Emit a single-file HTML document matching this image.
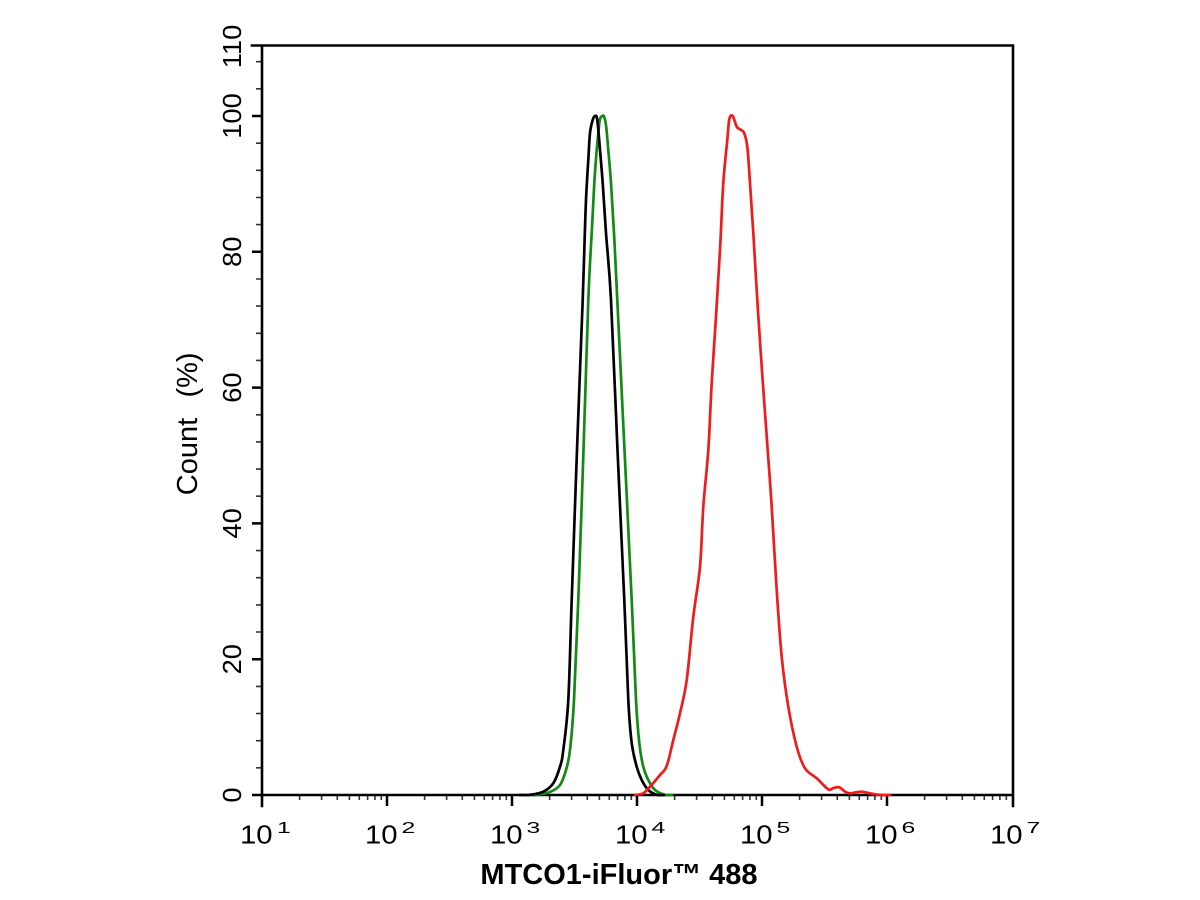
<!DOCTYPE html>
<html>
<head>
<meta charset="utf-8">
<style>
html,body{margin:0;padding:0;background:#fff}
svg{display:block}
text{font-family:"Liberation Sans",Arial,sans-serif;fill:#000}
</style>
</head>
<body>
<svg id="c" width="1200" height="900" viewBox="0 0 1200 900" xmlns="http://www.w3.org/2000/svg">
<rect width="1200" height="900" fill="#fff"/>
<path id="minor" stroke="#333" stroke-width="1.6" fill="none" d=""/>
<path id="major" stroke="#000" stroke-width="2.5" fill="none" d=""/>
<path stroke="#000" stroke-width="2.6" fill="none" stroke-linecap="square" d="M252 45.5H1013V806M262 45.5V806M262 795H1013"/>
<g fill="none" stroke-width="2.7" stroke-linejoin="round" stroke-linecap="round">
<polyline class="smooth" stroke="#138a13" points="530,795 536.7,794.8 550,792 560,785 566,770 570,750 574,700 578.3,600 583.5,450 588.3,300 591.7,233 594.3,183 596.7,150 598.3,133 600,119 602.3,116 604,116.5 606,125 608.3,150 611,183 614,233 617.3,300 624.5,450 631.7,600 636,700 639.3,743 643.3,766.7 648.3,780 655,790 665,794.8 672,795"/>
<polyline class="smooth" stroke="#000000" points="520,795 530,794.8 543.3,791.7 553.3,783.3 560,766.7 563.3,750 568.3,700 571.7,600 577,450 582.7,300 584.3,250 586,200 588.3,160 590,133 592.7,120 595,116 597.3,120 600,150 602.7,183 606,233 611,300 617.5,450 624.3,600 628.3,700 631.7,743 636.7,766.7 641.7,780 648.3,790 656.7,794.8 664,795"/>
<polyline class="smooth" stroke="#ee1c1c" points="635,795 643.3,793.3 650,786.7 660,775 666.7,766 673.3,740 680,713.3 686.7,680 693.3,616.7 700,566.7 703.3,506.7 708.3,450 711.7,383 716,316.7 720,250 723.3,183 727.3,140 729.3,119.3 732.7,116 736.7,126.7 740,129.3 744,132.7 747.3,146.7 750,183 753.3,233 757.3,300 761.7,366.7 767.7,450 771.7,506.7 776.7,590 781.7,656.7 788.3,706.7 796.7,746.7 805,768.3 816.7,778.3 828.3,789.3 833.3,788 839.3,787.3 845,791.7 850,793.3 856,792.3 861.7,791.7 870,793.3 880,795 890,795"/>
</g>
<g font-size="26" text-anchor="middle">
<text transform="translate(241,795) rotate(-90) scale(1.05,1)">0</text>
<text transform="translate(241,659.2) rotate(-90) scale(1.05,1)">20</text>
<text transform="translate(241,523.4) rotate(-90) scale(1.05,1)">40</text>
<text transform="translate(241,387.6) rotate(-90) scale(1.05,1)">60</text>
<text transform="translate(241,251.8) rotate(-90) scale(1.05,1)">80</text>
<text transform="translate(241,116) rotate(-90) scale(1.05,1)">100</text>
<text transform="translate(241,46.5) rotate(-90) scale(1.05,1)">110</text>
</g>
<g font-size="29" text-anchor="middle">
<text transform="translate(197,456.5) rotate(-90)">Count</text>
<text transform="translate(197,375) rotate(-90)">(%)</text>
</g>
<g font-size="25.5">
<text transform="translate(240,843.3) scale(1.15,1)">10</text>
<text transform="translate(365,843.3) scale(1.15,1)">10</text>
<text transform="translate(490,843.3) scale(1.15,1)">10</text>
<text transform="translate(615,843.3) scale(1.15,1)">10</text>
<text transform="translate(740,843.3) scale(1.15,1)">10</text>
<text transform="translate(865,843.3) scale(1.15,1)">10</text>
<text transform="translate(990,843.3) scale(1.15,1)">10</text>
</g>
<g font-size="15.5">
<text transform="translate(277,833) scale(1.6,1)">1</text>
<text transform="translate(401.5,833) scale(1.6,1)">2</text>
<text transform="translate(526.5,833) scale(1.6,1)">3</text>
<text transform="translate(651.5,833) scale(1.6,1)">4</text>
<text transform="translate(776.5,833) scale(1.6,1)">5</text>
<text transform="translate(901.5,833) scale(1.6,1)">6</text>
<text transform="translate(1026.5,833) scale(1.6,1)">7</text>
</g>
<text x="619" y="884" font-size="29" font-weight="bold" text-anchor="middle">MTCO1-iFluor™ 488</text>
</svg>
<script>
(function(){
var NS="http://www.w3.org/2000/svg";
var mn="",mj="",v,d,m;
for(v=4;v<=108;v+=4){if(v%20!==0){var y=(795-v*6.79).toFixed(1);mn+="M256 "+y+"h6";}}
for(v=0;v<=100;v+=20){mj+="M252 "+(795-v*6.79).toFixed(1)+"h10";}
for(d=0;d<6;d++){
 var x0=262+125*d;
 for(m=2;m<=9;m++){mn+="M"+(x0+125*Math.log10(m)).toFixed(1)+" 795v5";}
 if(d>0){mj+="M"+x0+" 795v11";}
}
document.getElementById("minor").setAttribute("d",mn);
document.getElementById("major").setAttribute("d",mj);
var pls=document.querySelectorAll("polyline.smooth");
for(var k=0;k<pls.length;k++){
 var pl=pls[k],n=pl.getAttribute("points").trim().split(/[\s,]+/).map(Number),p=[],i;
 for(i=0;i+1<n.length;i+=2)p.push([n[i],n[i+1]]);
 var s="M"+p[0][0]+","+p[0][1];
 for(i=0;i<p.length-1;i++){
  var a=p[i-1]||p[i],b=p[i],c=p[i+1],e=p[i+2]||p[i+1];
  s+=" C"+(b[0]+(c[0]-a[0])/6).toFixed(2)+","+(b[1]+(c[1]-a[1])/6).toFixed(2)+" "+(c[0]-(e[0]-b[0])/6).toFixed(2)+","+(c[1]-(e[1]-b[1])/6).toFixed(2)+" "+c[0]+","+c[1];
 }
 var path=document.createElementNS(NS,"path");
 path.setAttribute("d",s);path.setAttribute("stroke",pl.getAttribute("stroke"));path.setAttribute("fill","none");
 pl.parentNode.replaceChild(path,pl);
}
})();
</script>
</body>
</html>
